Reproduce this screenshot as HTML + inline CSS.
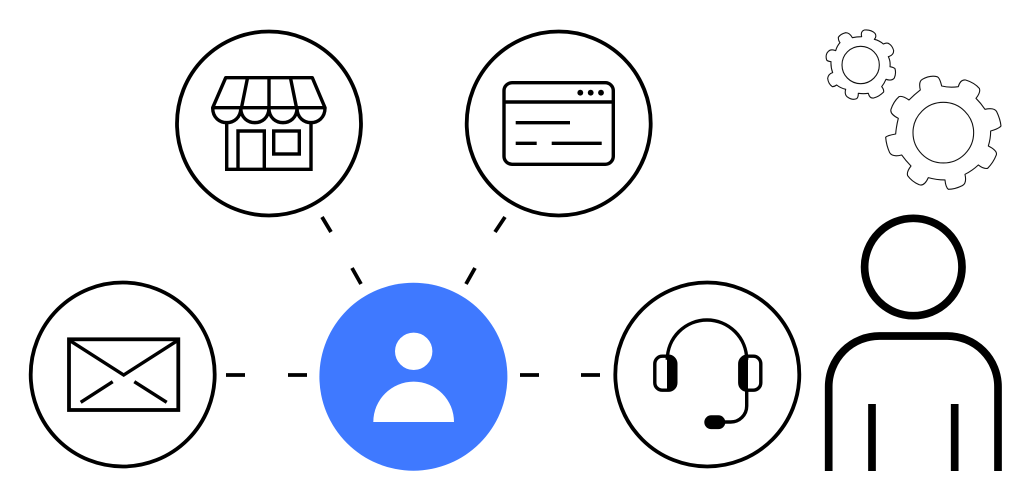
<!DOCTYPE html>
<html>
<head>
<meta charset="utf-8">
<style>
html,body{margin:0;padding:0;background:#fff;width:1031px;height:500px;overflow:hidden}
svg{display:block}
</style>
</head>
<body>
<svg width="1031" height="500" viewBox="0 0 1031 500" xmlns="http://www.w3.org/2000/svg">
<rect width="1031" height="500" fill="#fff"/>
<g fill="none" stroke="#000" stroke-width="3.8">
  <circle cx="269" cy="123.5" r="92"/>
  <circle cx="558.7" cy="123.5" r="92"/>
  <circle cx="122.7" cy="374.5" r="92"/>
  <circle cx="707.3" cy="374.5" r="92"/>
  <path d="M226 375H245M288 375H307M520 375H539M581 375H600"/>
  <path d="M322 217L331 232M352 268L361 284M505 217L495 232M475 268L466 284"/>
</g>
<circle cx="413.4" cy="376.7" r="94" fill="#3f79ff"/>
<circle cx="413.7" cy="351.3" r="18.7" fill="#fff"/>
<path d="M373.3 422A40.35 40.35 0 0 1 454 422Z" fill="#fff"/>

<!-- store -->
<g fill="none" stroke="#000" stroke-width="3.4">
  <path d="M225.7 77.7H312.3L325 107.7H212.7Z" stroke-linejoin="round"/>
  <path d="M247.5 78L241.5 107.7M269 78V107.7M290.5 78L296.5 107.7"/>
  <path d="M212.7 108C212.7 127.5 240.8 127.5 240.8 108C240.8 127.5 268.9 127.5 268.9 108C268.9 127.5 297 127.5 297 108C297 127.5 325 127.5 325 108"/>
  <path d="M226.7 123V169.3H311V123"/>
  <path d="M238 169.3V131H264.3V169.3"/>
  <rect x="273.7" y="131" width="25.6" height="23"/>
</g>

<!-- window -->
<g fill="none" stroke="#000" stroke-width="3.4">
  <rect x="504" y="82.7" width="109.3" height="81.6" rx="8"/>
  <path d="M504 102H613.3M515.7 122.7H570M515.7 143.3H536.7M551.7 143.3H601.7"/>
</g>
<g fill="#000">
  <circle cx="580.3" cy="92.7" r="2.9"/>
  <circle cx="590.7" cy="92.7" r="2.9"/>
  <circle cx="601" cy="92.7" r="2.9"/>
</g>

<!-- envelope -->
<g fill="none" stroke="#000" stroke-width="3.8">
  <rect x="69" y="339.3" width="109.3" height="70.7"/>
  <path d="M70 340.7L123.7 375L177.3 340.7" stroke-width="3.4"/>
  <path d="M80.7 402.3L112.7 381.7M166.7 402.3L134.3 381.7" stroke-width="3.4"/>
</g>

<!-- headset -->
<g fill="none" stroke="#000" stroke-width="3.4">
  <path d="M667.3 358V359.7A39.7 39.7 0 0 1 746.7 359.7V358"/>
  <rect x="654.8" y="356.2" width="21" height="34" rx="7.5"/>
  <rect x="739.8" y="356.2" width="21" height="34" rx="7.5"/>
  <path d="M746.7 390V406A16 16 0 0 1 730.7 422H722"/>
</g>
<path d="M667 355.5H669A7.5 7.5 0 0 1 676.5 363V383.5A7.5 7.5 0 0 1 669 391H667Z" fill="#000"/>
<path d="M748 355.5H746A7.5 7.5 0 0 0 738.5 363V383.5A7.5 7.5 0 0 0 746 391H748Z" fill="#000"/>
<rect x="704.3" y="415.3" width="21" height="13.8" rx="6.9" fill="#000"/>

<!-- gears -->
<g transform="translate(815 20) scale(.3333)" fill="none" stroke="#111" stroke-width="3.3" stroke-linejoin="round">
  <circle cx="385" cy="338" r="91"/>
  <path d="M380 198Q404 204 430 200Q436 178 452 180Q478 188 493 205Q498 216 483 235Q498 250 510 268Q538 262 545 275Q556 298 558 318Q552 326 527 333Q527 356 520 378Q548 392 544 405Q535 428 518 445Q506 448 490 435Q472 452 450 463Q456 490 442 497Q420 508 400 508Q392 502 390 480Q364 480 340 473Q328 500 312 494Q290 484 278 467Q274 456 288 438Q272 422 260 405Q232 412 224 398Q214 376 212 352Q218 346 242 342Q244 318 250 295Q224 282 228 268Q236 244 252 230Q262 226 282 240Q298 224 316 210Q310 184 322 178Q345 165 366 170Q374 172 380 198Z"/>
  <circle cx="137" cy="135" r="56"/>
  <path d="M140 50Q136 34 148 30Q168 28 180 40Q186 50 178 58Q194 62 205 72Q214 68 220 70Q232 76 236 92Q236 106 220 110Q227 124 225 140Q236 142 240 146Q244 160 238 174Q230 184 213 178Q208 190 200 200Q207 208 206 216Q192 230 176 234Q164 236 160 220Q146 222 130 220Q130 232 125 236Q112 242 96 230Q88 222 92 208Q76 204 65 195Q58 200 52 200Q40 192 38 175Q40 162 53 158Q47 142 48 125Q38 124 35 120Q30 104 40 94Q48 86 62 92Q66 78 75 68Q70 62 70 52Q76 42 92 38Q104 38 112 53Q125 50 140 50Z"/>
</g>

<!-- person -->
<g fill="none" stroke="#000" stroke-width="7.7">
  <circle cx="913.3" cy="267" r="48.7"/>
  <path d="M828.7 471V386.7A50.7 50.7 0 0 1 879.4 336H947.3A50.7 50.7 0 0 1 998 386.7V471"/>
  <path d="M872 404V471M954.7 404V471"/>
</g>
</svg>
</body>
</html>
